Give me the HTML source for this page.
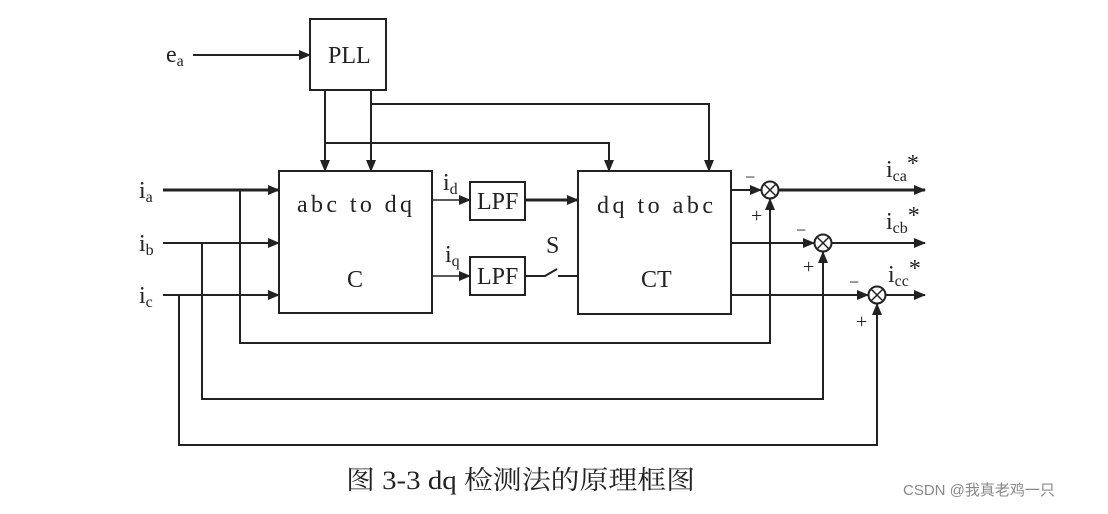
<!DOCTYPE html>
<html><head><meta charset="utf-8"><style>
body{margin:0;background:#fff;width:1108px;height:509px;overflow:hidden}
text{font-family:"Liberation Serif","Noto Serif CJK SC",serif;fill:#222}
</style></head><body>
<svg width="1108" height="509" viewBox="0 0 1108 509">
<defs><marker id="a" markerWidth="12" markerHeight="10" refX="11" refY="5" orient="auto" markerUnits="userSpaceOnUse"><path d="M0,0L12,5L0,10z" fill="#222"/></marker></defs>
<g stroke="#222" stroke-width="2" fill="none">
<rect x="310" y="19" width="76" height="71"/>
<rect x="279" y="171" width="153" height="142"/>
<rect x="470" y="182" width="55" height="38"/>
<rect x="470" y="257" width="55" height="38"/>
<rect x="578" y="171" width="153" height="143"/>
<line x1="193" y1="55" x2="310" y2="55" marker-end="url(#a)"/>
<line x1="325" y1="90" x2="325" y2="171" marker-end="url(#a)"/>
<line x1="371" y1="90" x2="371" y2="171" marker-end="url(#a)"/>
<polyline points="371,104 709,104 709,171" marker-end="url(#a)"/>
<polyline points="325,143 609,143 609,171" marker-end="url(#a)"/>
<line x1="163" y1="190" x2="279" y2="190" stroke-width="3" marker-end="url(#a)"/>
<line x1="163" y1="243" x2="279" y2="243" marker-end="url(#a)"/>
<line x1="163" y1="295" x2="279" y2="295" marker-end="url(#a)"/>
<line x1="432" y1="200" x2="470" y2="200" stroke-width="1.5" marker-end="url(#a)"/>
<line x1="432" y1="276" x2="470" y2="276" stroke-width="1.5" marker-end="url(#a)"/>
<line x1="525" y1="200" x2="578" y2="200" stroke-width="3" marker-end="url(#a)"/>
<polyline points="525,276 545,276 557,269"/>
<line x1="558" y1="276" x2="578" y2="276"/>
<polyline points="240,190 240,343 770,343 770,199" marker-end="url(#a)"/>
<polyline points="202,243 202,399 823,399 823,252" marker-end="url(#a)"/>
<polyline points="179,295 179,445 877,445 877,304" marker-end="url(#a)"/>
<line x1="731" y1="190" x2="761" y2="190" marker-end="url(#a)"/>
<line x1="731" y1="243" x2="814" y2="243" marker-end="url(#a)"/>
<line x1="731" y1="295" x2="868" y2="295" marker-end="url(#a)"/>
<line x1="779" y1="190" x2="925" y2="190" stroke-width="3" marker-end="url(#a)"/>
<line x1="832" y1="243" x2="925" y2="243" marker-end="url(#a)"/>
<line x1="886" y1="295" x2="925" y2="295" marker-end="url(#a)"/>
<circle cx="770" cy="190" r="8.5" fill="#fff"/>
<circle cx="823" cy="243" r="8.5" fill="#fff"/>
<circle cx="877" cy="295" r="8.5" fill="#fff"/>
<path d="M764,184L776,196M776,184L764,196M817,237L829,249M829,237L817,249M871,289L883,301M883,289L871,301" stroke-width="1.5"/>
</g>
<g font-size="24">
<text x="166" y="62">e<tspan font-size="16" dy="4">a</tspan></text>
<text x="328" y="63">PLL</text>
<text x="139" y="198">i<tspan font-size="16" dy="4">a</tspan></text>
<text x="139" y="251">i<tspan font-size="16" dy="4">b</tspan></text>
<text x="139" y="303">i<tspan font-size="16" dy="4">c</tspan></text>
<text x="297" y="212" textLength="115" lengthAdjust="spacing">abc  to  dq</text>
<text x="347" y="287">C</text>
<text x="443" y="190">i<tspan font-size="16" dy="4">d</tspan></text>
<text x="445" y="262">i<tspan font-size="16" dy="4">q</tspan></text>
<text x="477" y="209">LPF</text>
<text x="477" y="284">LPF</text>
<text x="546" y="253">S</text>
<text x="597" y="213" textLength="116" lengthAdjust="spacing">dq  to  abc</text>
<text x="641" y="287">CT</text>
<text x="886" y="177">i<tspan font-size="16" dy="4">ca</tspan><tspan dy="-10">*</tspan></text>
<text x="886" y="229">i<tspan font-size="16" dy="4">cb</tspan><tspan dy="-10">*</tspan></text>
<text x="888" y="282">i<tspan font-size="16" dy="4">cc</tspan><tspan dy="-10">*</tspan></text>
<text x="751" y="222" font-size="20">+</text>
<text x="803" y="273" font-size="20">+</text>
<text x="856" y="328" font-size="20">+</text>
<text x="745" y="183" font-size="18">−</text>
<text x="796" y="236" font-size="18">−</text>
<text x="849" y="288" font-size="18">−</text>
<text x="346" y="489" font-size="26" textLength="349" lengthAdjust="spacingAndGlyphs">图 3-3 dq 检测法的原理框图</text>
</g>
<text x="903" y="495" font-size="15" style="font-family:'Liberation Sans','Noto Sans CJK SC',sans-serif;fill:#888">CSDN @我真老鸡一只</text>
</svg>
</body></html>
